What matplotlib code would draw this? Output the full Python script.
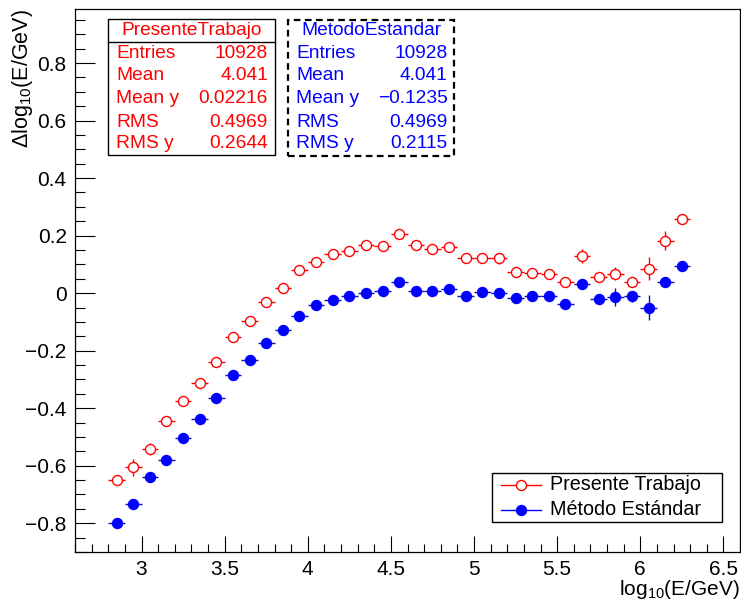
import numpy as np
import matplotlib
matplotlib.use('Agg')
from matplotlib import pyplot as plt
from matplotlib.ticker import MultipleLocator, FuncFormatter
from matplotlib.lines import Line2D
from matplotlib.patches import Rectangle

plt.rcParams['font.family'] = ['Liberation Sans', 'DejaVu Sans']
plt.rcParams['mathtext.default'] = 'regular'

# bin centres, log10(E/GeV)
x_bins = [2.85, 2.95, 3.05, 3.15, 3.25, 3.35, 3.45, 3.55, 3.65, 3.75,
          3.85, 3.95, 4.05, 4.15, 4.25, 4.35, 4.45, 4.55, 4.65, 4.75,
          4.85, 4.95, 5.05, 5.15, 5.25, 5.35, 5.45, 5.55, 5.65, 5.75,
          5.85, 5.95, 6.05, 6.15, 6.25]

# Presente Trabajo
y_presente = [-0.648, -0.605, -0.542, -0.444, -0.374, -0.313, -0.238, -0.153, -0.097, -0.030,
              0.018, 0.080, 0.108, 0.136, 0.147, 0.166, 0.163, 0.207, 0.168, 0.153,
              0.160, 0.121, 0.121, 0.121, 0.074, 0.070, 0.066, 0.039, 0.129, 0.056,
              0.068, 0.040, 0.084, 0.183, 0.259]
err_presente = [0.010, 0.030, 0.020, 0.012, 0.010, 0.010, 0.008, 0.008, 0.008, 0.008,
                0.008, 0.008, 0.008, 0.008, 0.008, 0.008, 0.008, 0.008, 0.008, 0.008,
                0.008, 0.008, 0.008, 0.018, 0.010, 0.010, 0.010, 0.010, 0.025, 0.012,
                0.022, 0.012, 0.040, 0.032, 0.010]

# Metodo Estandar
y_estandar = [-0.800, -0.732, -0.640, -0.579, -0.504, -0.438, -0.364, -0.285, -0.232, -0.174,
              -0.127, -0.080, -0.042, -0.025, -0.010, 0.002, 0.009, 0.040, 0.007, 0.007,
              0.016, -0.009, 0.005, 0.001, -0.016, -0.010, -0.010, -0.038, 0.031, -0.020,
              -0.013, -0.011, -0.050, 0.039, 0.093]
err_estandar = [0.006, 0.010, 0.006, 0.006, 0.006, 0.006, 0.006, 0.006, 0.006, 0.006,
                0.006, 0.006, 0.006, 0.006, 0.006, 0.006, 0.006, 0.006, 0.006, 0.006,
                0.006, 0.006, 0.006, 0.006, 0.006, 0.006, 0.006, 0.006, 0.010, 0.017,
                0.031, 0.020, 0.042, 0.010, 0.008]

bin_half = 0.05

stat_names = ['Entries', 'Mean', 'Mean y', 'RMS', 'RMS y']
stats_presente = ['10928', '4.041', '0.02216', '0.4969', '0.2644']
stats_estandar = ['10928', '4.041', '\u22120.1235', '0.4969', '0.2115']

legend_labels = ['Presente Trabajo', 'M\u00e9todo Est\u00e1ndar']

W, H = 741, 605
fig = plt.figure(figsize=(W / 100, H / 100), dpi=100)
ax = fig.add_axes([75 / W, 1 - 552 / H, 665 / W, 543 / H])

ax.errorbar(x_bins, y_presente, xerr=bin_half, yerr=err_presente, fmt='o',
            mfc='white', mec='red', mew=1.0, ms=7.2, ecolor='red',
            elinewidth=1.0, capsize=0, zorder=3)
ax.errorbar(x_bins, y_estandar, xerr=bin_half, yerr=err_estandar, fmt='o',
            mfc='blue', mec='blue', mew=1.0, ms=7.2, ecolor='#1010b0',
            elinewidth=1.0, capsize=0, zorder=3)

ax.set_xlim(2.6, 6.6)
ax.set_ylim(-0.9, 0.988)

fmt = FuncFormatter(lambda v, p: ('%g' % round(v, 3)).replace('-', '\u2212'))
ax.xaxis.set_major_locator(MultipleLocator(0.5))
ax.xaxis.set_minor_locator(MultipleLocator(0.1))
ax.yaxis.set_major_locator(MultipleLocator(0.2))
ax.yaxis.set_minor_locator(MultipleLocator(0.05))
ax.xaxis.set_major_formatter(fmt)
ax.yaxis.set_major_formatter(fmt)

ax.tick_params(axis='both', which='both', direction='in', top=False, right=False,
               width=0.8, labelsize=15)
ax.tick_params(axis='y', which='major', length=14.5, pad=6)
ax.tick_params(axis='y', which='minor', length=7.2)
ax.tick_params(axis='x', which='major', length=11.5, pad=6)
ax.tick_params(axis='x', which='minor', length=5.8)
for sp in ax.spines.values():
    sp.set_linewidth(0.9)

ax.set_xlabel('log$_{10}$(E/GeV)', fontsize=15, ha='right')
ax.xaxis.set_label_coords(1.0, -0.048)
ax.set_ylabel('\u0394log$_{10}$(E/GeV)', fontsize=15.5, ha='right')
ax.yaxis.set_label_coords(-0.06, 1.0)


def fx(px):
    return px / W


def fy(py):
    return 1 - py / H


# stat boxes
row_y = [53.3, 75.7, 98.3, 122.3, 143.3]
boxes = [
    ('PresenteTrabajo', stats_presente, 'red', 108.3, 275, 19.3, 155, '-', True),
    ('MetodoEstandar', stats_estandar, 'blue', 288.3, 454.3, 20, 156, (0, (3, 2)), False),
]
for title, vals, col, x0, x1, y0, y1, ls, sep in boxes:
    fig.add_artist(Rectangle((fx(x0), fy(y1)), fx(x1) - fx(x0), fy(y0) - fy(y1),
                             transform=fig.transFigure, fill=True, facecolor='white',
                             edgecolor='black', linewidth=1.6 if ls != '-' else 1.0,
                             linestyle=ls, zorder=5))
    if sep:
        fig.add_artist(Line2D([fx(x0), fx(x1)], [fy(41.7), fy(41.7)],
                              transform=fig.transFigure, color='black', lw=1.0, zorder=6))
    fig.text(fx((x0 + x1) / 2), fy(30.5), title, color=col, fontsize=13.8,
             ha='center', va='center', zorder=7)
    for name, val, ry in zip(stat_names, vals, row_y):
        fig.text(fx(x0 + 8), fy(ry), name, color=col, fontsize=13.8,
                 ha='left', va='center', zorder=7)
        fig.text(fx(x1 - 7), fy(ry), val, color=col, fontsize=13.8,
                 ha='right', va='center', zorder=7)

# legend, drawn by hand in ROOT TLegend style
fig.add_artist(Rectangle((fx(491.7), fy(522.3)), fx(721.7) - fx(491.7), fy(473.3) - fy(522.3),
                         transform=fig.transFigure, facecolor='white', edgecolor='black',
                         linewidth=1.0, zorder=5))
leg_styles = [('red', 'white'), ('blue', 'blue')]
for (col, face), label, ry in zip(leg_styles, legend_labels, [484.5, 509.5]):
    fig.add_artist(Line2D([fx(500.7), fx(540.7)], [fy(ry), fy(ry)], transform=fig.transFigure,
                          color=col, lw=1.0, zorder=6))
    fig.add_artist(Line2D([fx(520.7)], [fy(ry)], transform=fig.transFigure, marker='o',
                          ms=7.2, mfc=face, mec=col, mew=1.0, zorder=7))
    fig.text(fx(550), fy(ry), label, fontsize=14.2, ha='left', va='center', zorder=7)

fig.savefig('out.png', dpi=100)
